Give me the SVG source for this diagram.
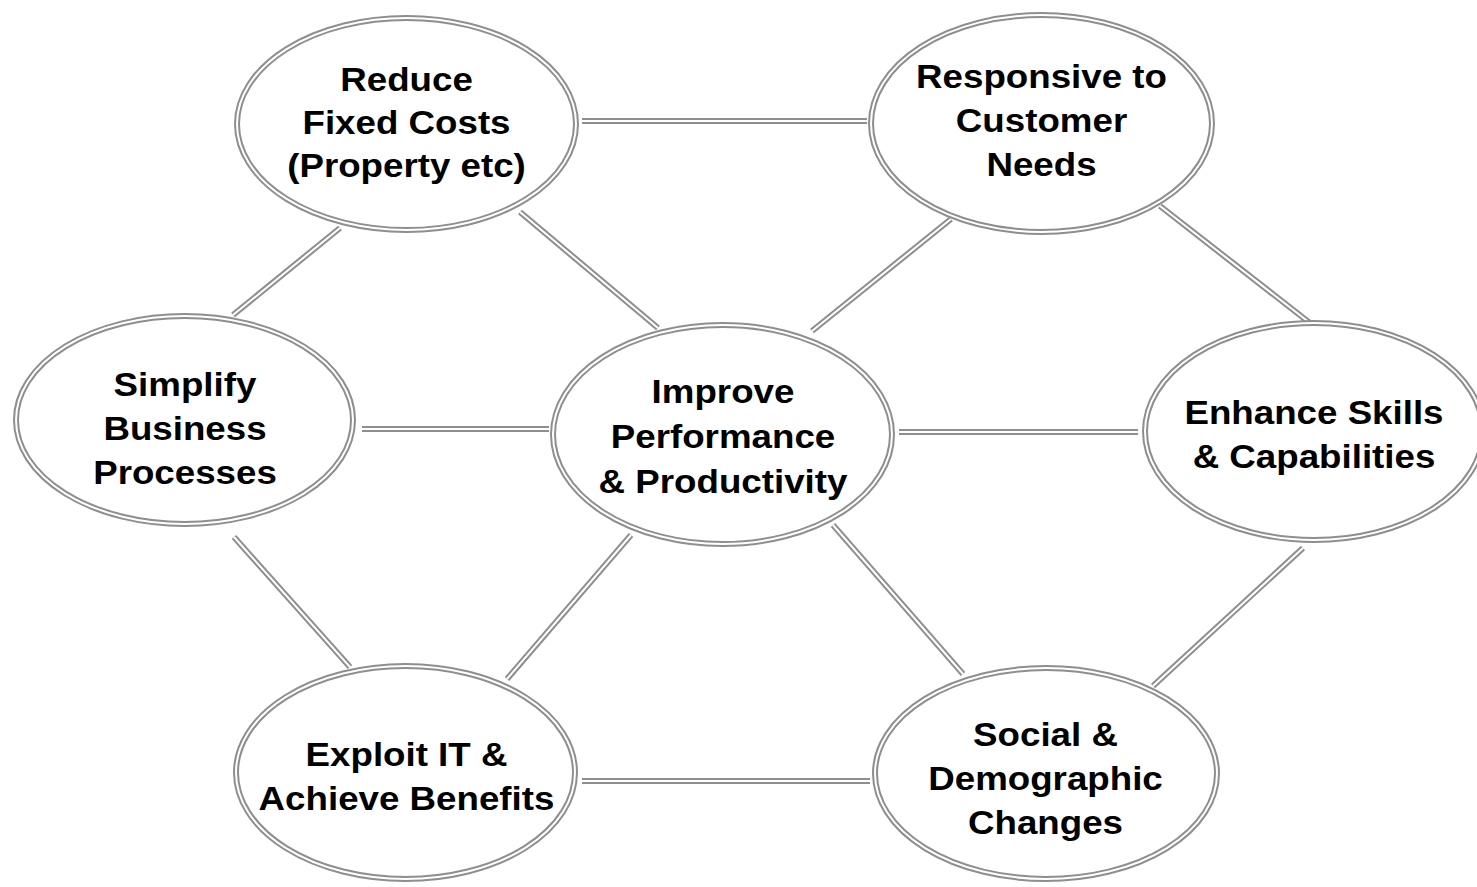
<svg xmlns="http://www.w3.org/2000/svg" width="1477" height="887" viewBox="0 0 1477 887">
  <style>
    .rail { fill: none; stroke: #8e8e8e; stroke-width: 6; stroke-linecap: butt; }
    .gap { fill: none; stroke: #ffffff; stroke-width: 2; stroke-linecap: butt; }
    .ring { fill: #ffffff; stroke: #8e8e8e; stroke-width: 6; }
    .ring-gap { fill: none; stroke: #ffffff; stroke-width: 2; }
    .label { font-family: "Liberation Sans", Arial, Helvetica, sans-serif; font-weight: bold; font-size: 32.5px; fill: #000000; text-anchor: middle; }
  </style>
  <rect x="0" y="0" width="1477" height="887" fill="#ffffff"/>

  <!-- double-rail connectors between the goal bubbles -->
  <g id="connectors">
    <g id="link-reduce-responsive"><path class="rail" d="M582 121 L867 121"/><path class="gap" d="M582 121 L867 121"/></g>
    <g id="link-reduce-simplify"><path class="rail" d="M340 228 L233 315"/><path class="gap" d="M340 228 L233 315"/></g>
    <g id="link-reduce-improve"><path class="rail" d="M520 212 L658 328"/><path class="gap" d="M520 212 L658 328"/></g>
    <g id="link-responsive-improve"><path class="rail" d="M951 219 L812 331"/><path class="gap" d="M951 219 L812 331"/></g>
    <g id="link-responsive-enhance"><path class="rail" d="M1160 206 L1310 323"/><path class="gap" d="M1160 206 L1310 323"/></g>
    <g id="link-simplify-improve"><path class="rail" d="M362 429 L549 429"/><path class="gap" d="M362 429 L549 429"/></g>
    <g id="link-improve-enhance"><path class="rail" d="M899 432 L1138 432"/><path class="gap" d="M899 432 L1138 432"/></g>
    <g id="link-simplify-exploit"><path class="rail" d="M234 537 L350 667"/><path class="gap" d="M234 537 L350 667"/></g>
    <g id="link-improve-exploit"><path class="rail" d="M631 535 L507 679"/><path class="gap" d="M631 535 L507 679"/></g>
    <g id="link-improve-social"><path class="rail" d="M833 525 L963 674"/><path class="gap" d="M833 525 L963 674"/></g>
    <g id="link-enhance-social"><path class="rail" d="M1303 548 L1153 686"/><path class="gap" d="M1303 548 L1153 686"/></g>
    <g id="link-exploit-social"><path class="rail" d="M582 781 L870 781"/><path class="gap" d="M582 781 L870 781"/></g>
  </g>

  <!-- goal bubbles: double-outlined ellipses with centred bold labels -->
  <g id="node-reduce">
    <ellipse class="ring" cx="406.5" cy="124" rx="169.5" ry="106"/>
    <ellipse class="ring-gap" cx="406.5" cy="124" rx="169.5" ry="106"/>
    <text class="label" transform="translate(406.5 0) scale(1.13 1)"><tspan x="0" y="91">Reduce</tspan><tspan x="0" y="134">Fixed Costs</tspan><tspan x="0" y="177">(Property etc)</tspan></text>
  </g>

  <g id="node-responsive">
    <ellipse class="ring" cx="1041.5" cy="123.5" rx="170.5" ry="108.5"/>
    <ellipse class="ring-gap" cx="1041.5" cy="123.5" rx="170.5" ry="108.5"/>
    <text class="label" transform="translate(1041.5 0) scale(1.13 1)"><tspan x="0" y="88">Responsive to</tspan><tspan x="0" y="132">Customer</tspan><tspan x="0" y="176">Needs</tspan></text>
  </g>

  <g id="node-simplify">
    <ellipse class="ring" cx="184.5" cy="420" rx="168.5" ry="104"/>
    <ellipse class="ring-gap" cx="184.5" cy="420" rx="168.5" ry="104"/>
    <text class="label" transform="translate(185 0) scale(1.13 1)"><tspan x="0" y="396">Simplify</tspan><tspan x="0" y="440">Business</tspan><tspan x="0" y="484">Processes</tspan></text>
  </g>

  <g id="node-improve">
    <ellipse class="ring" cx="722.5" cy="434.5" rx="169.5" ry="109.5"/>
    <ellipse class="ring-gap" cx="722.5" cy="434.5" rx="169.5" ry="109.5"/>
    <text class="label" transform="translate(723 0) scale(1.13 1)"><tspan x="0" y="403">Improve</tspan><tspan x="0" y="448">Performance</tspan><tspan x="0" y="493">&amp; Productivity</tspan></text>
  </g>

  <g id="node-enhance">
    <ellipse class="ring" cx="1314" cy="431.5" rx="169" ry="108.5"/>
    <ellipse class="ring-gap" cx="1314" cy="431.5" rx="169" ry="108.5"/>
    <text class="label" transform="translate(1314 0) scale(1.13 1)"><tspan x="0" y="424">Enhance Skills</tspan><tspan x="0" y="468">&amp; Capabilities</tspan></text>
  </g>

  <g id="node-exploit">
    <ellipse class="ring" cx="405.5" cy="772.5" rx="169.5" ry="106.5"/>
    <ellipse class="ring-gap" cx="405.5" cy="772.5" rx="169.5" ry="106.5"/>
    <text class="label" transform="translate(406.5 0) scale(1.13 1)"><tspan x="0" y="766">Exploit IT &amp;</tspan><tspan x="0" y="810">Achieve Benefits</tspan></text>
  </g>

  <g id="node-social">
    <ellipse class="ring" cx="1046" cy="773.5" rx="171" ry="105.5"/>
    <ellipse class="ring-gap" cx="1046" cy="773.5" rx="171" ry="105.5"/>
    <text class="label" transform="translate(1045.5 0) scale(1.13 1)"><tspan x="0" y="746">Social &amp;</tspan><tspan x="0" y="790">Demographic</tspan><tspan x="0" y="834">Changes</tspan></text>
  </g>
</svg>
